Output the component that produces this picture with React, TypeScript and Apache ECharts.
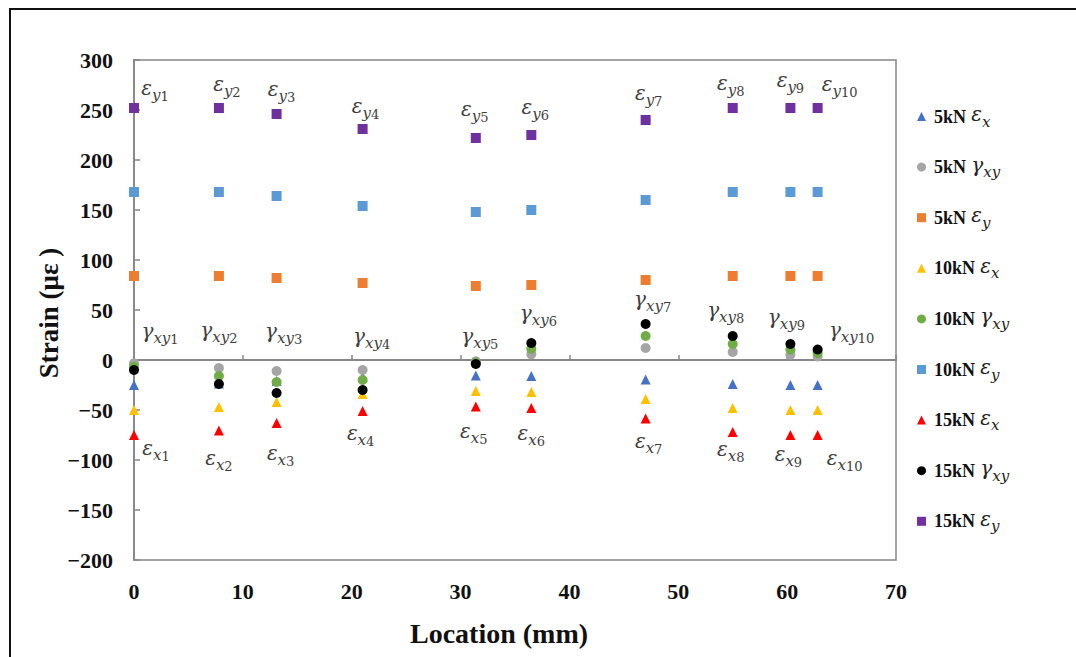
import React, { useEffect, useRef } from 'react';
import * as echarts from 'echarts';

// Gauge locations along the specimen (mm)
const locations = [0, 7.8, 13.1, 21, 31.4, 36.5, 47, 55, 60.3, 62.8];

// Measured strains (με) per load level
const ex5 = [-25, -23.5, -21, -17, -15.5, -16, -19.5, -24, -25, -25];
const gxy5 = [-3.3, -8, -11, -10, -1.3, 5.7, 12, 8, 5.3, 3.5];
const ey5 = [84, 84, 82, 77, 74, 75, 80, 84, 84, 84];
const ex10 = [-50, -47, -42, -34, -31, -32, -39, -48, -50, -50];
const gxy10 = [-6.7, -16, -22, -20, -2.7, 11.3, 24, 16, 10.5, 7];
const ey10 = [168, 168, 164, 154, 148, 150, 160, 168, 168, 168];
const ex15 = [-75, -70.5, -63, -51, -46.5, -48, -58.5, -72, -75, -75];
const gxy15 = [-10, -24, -33, -30, -4, 17, 36, 24, 16, 10.5];
const ey15 = [252, 252, 246, 231, 222, 225, 240, 252, 252, 252];

// Axis ranges and tick steps
const xRange = [0, 70];
const xStep = 10;
const yRange = [-200, 300];
const yStep = 50;

const xTitle = 'Location (mm)';
const yTitle = 'Strain (με )';

type Comp = 'ex' | 'gxy' | 'ey';
const compSymbol: Record<Comp, { glyph: string; sub: string; marker: string; size: number }> = {
  ex: { glyph: 'ε', sub: 'x', marker: 'triangle', size: 10 },
  gxy: { glyph: 'γ', sub: 'xy', marker: 'circle', size: 10 },
  ey: { glyph: 'ε', sub: 'y', marker: 'rect', size: 10 },
};

const seriesDefs: { load: string; comp: Comp; values: number[]; color: string }[] = [
  { load: '5kN', comp: 'ex', values: ex5, color: '#4472C4' },
  { load: '5kN', comp: 'gxy', values: gxy5, color: '#A5A5A5' },
  { load: '5kN', comp: 'ey', values: ey5, color: '#ED7D31' },
  { load: '10kN', comp: 'ex', values: ex10, color: '#FFC000' },
  { load: '10kN', comp: 'gxy', values: gxy10, color: '#70AD47' },
  { load: '10kN', comp: 'ey', values: ey10, color: '#5B9BD5' },
  { load: '15kN', comp: 'ex', values: ex15, color: '#FF0000' },
  { load: '15kN', comp: 'gxy', values: gxy15, color: '#000000' },
  { load: '15kN', comp: 'ey', values: ey15, color: '#7030A0' },
];

// Gauge tags are hung on the 15kN points; offsets place each tag beside its point
const tagOffsets: Partial<Record<Comp, number[][]>> = {
  ey: [[21, -18], [8, -22], [5, -23], [3, -21], [-1, -27], [4, -26], [3, -25], [-2, -23], [0, -26], [22, -22]],
  gxy: [[26, -37], [0, -52], [7, -60], [9, -52], [4, -26], [7, -28], [7, -23], [-7, -24], [-4, -25], [34, -17.5]],
  ex: [[22, 15], [0, 29.5], [4, 32], [-2, 24], [-2, 26.5], [0, 27], [3, 24.5], [-2, 19], [-2, 21], [27, 25]],
};

const SERIF = '"Liberation Serif", "Times New Roman", serif';
const MATH = '"DejaVu Serif", serif';
const TAG_COLOR = '#3d3d3d';

const tagRich = {
  m: { fontFamily: MATH, fontStyle: 'italic', fontSize: 20, color: TAG_COLOR, padding: [0, 0, 5, 0], verticalAlign: 'bottom' },
  s: { fontFamily: MATH, fontStyle: 'italic', fontSize: 15, color: TAG_COLOR, verticalAlign: 'bottom' },
  n: { fontFamily: MATH, fontSize: 13, color: TAG_COLOR, verticalAlign: 'bottom' },
};

const legendRich = {
  b: { fontFamily: SERIF, fontWeight: 'bold', fontSize: 18, color: '#111', padding: [0, 0, 0, 3] },
  m: { fontFamily: MATH, fontStyle: 'italic', fontSize: 20, color: '#222', padding: [0, 0, 5, 2], verticalAlign: 'bottom' },
  s: { fontFamily: MATH, fontStyle: 'italic', fontSize: 15, color: '#222', verticalAlign: 'bottom' },
};

const nameOf = (d: { load: string; comp: Comp }) => `${d.load} ${compSymbol[d.comp].glyph}${compSymbol[d.comp].sub}`;

const fmtNum = (v: number) => (v < 0 ? '\u2212' + Math.abs(v) : String(v));

export default function App() {
  const ref = useRef<HTMLDivElement>(null);

  useEffect(() => {
    document.body.style.margin = '0';
    if (!ref.current) return;
    const chart = echarts.init(ref.current, undefined, { renderer: 'svg' });

    const series = seriesDefs.map((d) => {
      const sym = compSymbol[d.comp];
      const tagged = d.load === '15kN';
      const offsets = tagOffsets[d.comp] || [];
      return {
        name: nameOf(d),
        type: 'scatter',
        xAxisIndex: 0,
        yAxisIndex: 0,
        symbol: sym.marker,
        symbolSize: sym.size,
        itemStyle: { color: d.color, opacity: 1 },
        data: d.values.map((v, i) => ({
          value: [locations[i], v],
          label: tagged
            ? {
                show: true,
                position: 'inside',
                offset: offsets[i],
                formatter: `{m|${sym.glyph}}{s|${sym.sub}}{n|${i + 1}}`,
                rich: tagRich,
              }
            : { show: false },
        })),
        emphasis: { disabled: true },
        z: 3,
      };
    });

    const names = seriesDefs.map(nameOf);
    const legendText: Record<string, string> = {};
    seriesDefs.forEach((d) => {
      const sym = compSymbol[d.comp];
      legendText[nameOf(d)] = `{b|${d.load}} {m|${sym.glyph}}{s|${sym.sub}}`;
    });

    const axisGray = '#878787';

    chart.setOption({
      animation: false,
      backgroundColor: '#ffffff',
      grid: {
        left: 134,
        top: 60,
        width: 762,
        height: 500,
        show: true,
        borderColor: axisGray,
        borderWidth: 1.5,
        containLabel: false,
      },
      legend: {
        orient: 'vertical',
        left: 912,
        top: 99,
        itemWidth: 9,
        itemHeight: 9,
        itemGap: 25.6,
        data: names,
        formatter: (n: string) => legendText[n],
        textStyle: { rich: legendRich },
        selectedMode: false,
      },
      xAxis: [
        {
          type: 'value',
          min: xRange[0],
          max: xRange[1],
          interval: xStep,
          position: 'bottom',
          axisLine: { show: false, onZero: false },
          axisTick: { show: false },
          splitLine: { show: false },
          axisLabel: {
            margin: 20,
            fontFamily: SERIF,
            fontWeight: 'bold',
            fontSize: 22,
            color: '#111',
          },
        },
        {
          // zero line carrying the x ticks
          type: 'value',
          min: xRange[0],
          max: xRange[1],
          interval: xStep,
          position: 'bottom',
          axisLine: { show: true, onZero: true, lineStyle: { color: axisGray, width: 1.8 } },
          axisTick: { show: true, inside: true, length: 5, lineStyle: { color: axisGray, width: 1.5 } },
          axisLabel: { show: false },
          splitLine: { show: false },
        },
      ],
      yAxis: {
        type: 'value',
        min: yRange[0],
        max: yRange[1],
        interval: yStep,
        axisLine: { show: true, onZero: false, lineStyle: { color: axisGray, width: 1.8 } },
        axisTick: { show: true, inside: true, length: 6, lineStyle: { color: axisGray, width: 1.5 } },
        splitLine: { show: false },
        axisLabel: {
          margin: 21,
          formatter: fmtNum,
          fontFamily: SERIF,
          fontWeight: 'bold',
          fontSize: 22,
          color: '#111',
        },
      },
      graphic: [
        {
          type: 'polyline',
          shape: { points: [[10, 657], [10, 9], [1076, 9]] },
          style: { stroke: '#111', lineWidth: 2, fill: 'none' },
          silent: true,
        },
        {
          type: 'text',
          x: 499,
          y: 633,
          style: {
            text: xTitle,
            fontFamily: SERIF,
            fontWeight: 'bold',
            fontSize: 28,
            fill: '#111',
            textAlign: 'center',
            textVerticalAlign: 'middle',
          },
        },
        {
          type: 'text',
          x: 49,
          y: 313,
          rotation: Math.PI / 2,
          style: {
            text: yTitle,
            fontFamily: SERIF,
            fontWeight: 'bold',
            fontSize: 27,
            fill: '#111',
            textAlign: 'center',
            textVerticalAlign: 'middle',
          },
        },
      ],
      series,
    });

    return () => chart.dispose();
  }, []);

  return <div ref={ref} style={{ width: 1076, height: 657 }} />;
}
